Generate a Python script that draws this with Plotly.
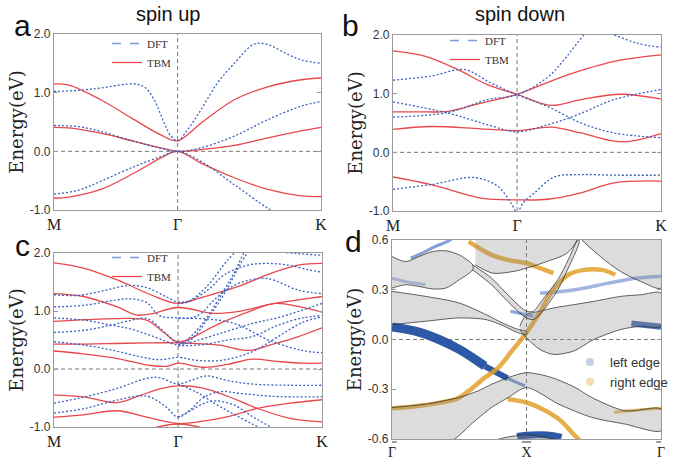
import plotly.graph_objects as go

K = 2.16

# ---------------- panel a (spin up) ----------------
a_tbm_k = [0, 0.12, 0.378, 0.649, 0.865, 1.0, 1.189, 1.459, 1.73, 2.0, 2.16]
a_tbm1_e = [1.15, 1.13, 0.88, 0.54, 0.28, 0.18, 0.48, 0.88, 1.10, 1.22, 1.25]
a_tbm2_e = [0.41, 0.40, 0.31, 0.17, 0.06, 0.0, 0.03, 0.10, 0.23, 0.35, 0.41]
a_tbm3_e = [-0.80, -0.78, -0.65, -0.37, -0.11, 0.0, -0.20, -0.45, -0.65, -0.76, -0.77]
a_dft1_k = [0, 0.2, 0.378, 0.649, 0.73, 0.81, 0.892, 0.946, 1.0, 1.081, 1.189, 1.324, 1.459, 1.622, 1.73, 1.865, 2.0, 2.16]
a_dft1_e = [1.02, 1.04, 1.08, 1.15, 1.10, 0.88, 0.48, 0.26, 0.18, 0.37, 0.71, 1.17, 1.50, 1.83, 1.82, 1.68, 1.56, 1.50]
a_dft2_k = [0, 0.2, 0.378, 0.649, 0.865, 1.0, 1.189, 1.459, 1.73, 2.0, 2.16]
a_dft2_e = [0.44, 0.42, 0.34, 0.17, 0.05, 0.0, 0.06, 0.26, 0.54, 0.77, 0.85]
a_dft3_k = [0, 0.2, 0.378, 0.649, 0.865, 1.0, 1.189, 1.459, 1.73, 1.8]
a_dft3_e = [-0.73, -0.66, -0.51, -0.26, -0.09, 0.0, -0.17, -0.57, -0.97, -1.05]

# ---------------- panel b (spin down) ----------------
b_tbm1_k = [0, 0.255, 0.523, 0.764, 1.0, 1.273, 1.515, 1.836, 2.16]
b_tbm1_e = [1.73, 1.64, 1.41, 1.15, 0.99, 0.80, 0.90, 0.99, 0.91]
b_tbm2_k = [0, 0.2, 0.442, 0.71, 1.0, 1.38, 1.783, 2.16]
b_tbm2_e = [0.69, 0.69, 0.70, 0.84, 0.99, 1.30, 1.55, 1.66]
b_tbm3_k = [0, 0.308, 0.71, 1.0, 1.273, 1.515, 1.783, 1.917, 2.16]
b_tbm3_e = [0.39, 0.44, 0.40, 0.37, 0.43, 0.33, 0.19, 0.19, 0.32]
b_tbm4_k = [0, 0.308, 0.71, 1.0, 1.247, 1.515, 1.783, 2.16]
b_tbm4_e = [-0.42, -0.55, -0.78, -0.81, -0.80, -0.69, -0.52, -0.49]
b_dft1_k = [0, 0.308, 0.576, 0.79, 1.0, 1.247, 1.515, 1.783, 2.16]
b_dft1_e = [1.23, 1.30, 1.41, 1.18, 0.98, 0.78, 0.50, 0.33, 0.25]
b_dft2_k = [0, 0.442, 0.764, 1.0, 1.247, 1.488, 1.783, 2.16]
b_dft2_e = [0.86, 0.67, 0.47, 0.35, 0.47, 0.64, 0.90, 1.07]
b_dft3_k = [0, 0.442, 0.764, 1.0, 1.247, 1.38, 1.54, 1.6]
b_dft3_e = [0.60, 0.68, 0.90, 0.98, 1.28, 1.58, 2.0, 2.1]
b_dft4_k = [1.70, 1.756, 1.97, 2.16]
b_dft4_e = [2.1, 2.03, 1.86, 1.79]
b_dft5_k = [0, 0.308, 0.657, 0.845, 0.95, 1.0, 1.05, 1.14, 1.3, 1.5, 1.8, 2.16]
b_dft5_e = [-0.63, -0.55, -0.43, -0.58, -0.86, -1.02, -0.86, -0.69, -0.42, -0.38, -0.39, -0.39]

# ---------------- panel c ----------------
c_tbm1_k = [0, 0.237, 0.51, 0.78, 1.0, 1.2, 1.48, 1.75, 1.97, 2.16]
c_tbm1_e = [1.83, 1.74, 1.535, 1.28, 1.13, 1.24, 1.42, 1.65, 1.79, 1.82]
c_tbm2_k = [0, 0.237, 0.51, 0.67, 0.78, 1.0, 1.29, 1.48, 1.75, 1.97, 2.16]
c_tbm2_e = [1.30, 1.25, 1.07, 0.93, 0.95, 1.06, 0.96, 0.99, 1.12, 1.19, 1.25]
c_tbm3_k = [0, 0.25, 0.51, 0.75, 0.89, 1.0, 1.34, 1.61, 1.78, 1.97, 2.16]
c_tbm3_e = [0.82, 0.85, 0.87, 0.84, 0.62, 0.47, 0.79, 1.02, 1.13, 1.08, 0.98]
c_tbm4_k = [0, 0.25, 0.5, 0.75, 1.0, 1.33, 1.57, 1.75, 1.97, 2.16]
c_tbm4_e = [0.43, 0.43, 0.44, 0.45, 0.45, 0.41, 0.32, 0.42, 0.56, 0.71]
c_tbm5_k = [0, 0.237, 0.51, 0.78, 0.92, 1.0, 1.2, 1.4, 1.6, 1.8, 2.0, 2.16]
c_tbm5_e = [0.31, 0.26, 0.18, 0.06, 0.05, 0.10, 0.03, 0.08, 0.17, 0.13, 0.10, 0.10]
c_tbm6_k = [0, 0.237, 0.51, 0.70, 0.86, 1.0, 1.2, 1.4, 1.64, 1.9, 2.16]
c_tbm6_e = [-0.45, -0.48, -0.58, -0.45, -0.34, -0.29, -0.33, -0.47, -0.68, -0.85, -0.91]
c_tbm7_k = [0, 0.237, 0.51, 0.73, 1.0, 1.2, 1.4, 1.64, 1.9, 2.16]
c_tbm7_e = [-0.83, -0.79, -0.72, -0.82, -0.94, -0.90, -0.82, -0.68, -0.59, -0.53]
c_tbm8_k = [0.78, 0.9, 1.0, 1.1, 1.22]
c_tbm8_e = [-1.03, -0.97, -0.95, -0.97, -1.03]

c_dft1_k = [0, 0.2, 0.4, 0.6, 0.75, 0.9, 1.0, 1.07, 1.23, 1.4, 1.5]
c_dft1_e = [1.28, 1.27, 1.35, 1.44, 1.40, 1.25, 1.15, 1.15, 1.42, 1.88, 2.1]
c_dft2_k = [1.0, 1.1, 1.25, 1.37, 1.56, 1.72, 1.89, 2.05, 2.16]
c_dft2_e = [1.15, 1.18, 1.38, 1.62, 1.79, 1.82, 1.79, 1.71, 1.67]
c_dft3_k = [0, 0.25, 0.5, 0.62, 0.75, 0.85, 1.0, 1.25, 1.46, 1.74, 2.0, 2.16]
c_dft3_e = [1.07, 1.10, 1.19, 1.21, 1.14, 0.92, 0.88, 0.86, 0.78, 0.49, 0.32, 0.28]
c_dft4_k = [0, 0.25, 0.45, 0.6, 0.75, 0.9, 1.0, 1.07, 1.2, 1.34, 1.45, 1.53, 1.56]
c_dft4_e = [0.88, 0.84, 0.76, 0.70, 0.60, 0.48, 0.42, 0.50, 0.79, 1.25, 1.65, 2.0, 2.1]
c_dft5_k = [0, 0.25, 0.45, 0.6, 0.75, 0.9, 1.0, 1.1, 1.25, 1.4, 1.5, 1.58]
c_dft5_e = [0.63, 0.67, 0.75, 0.83, 0.87, 0.62, 0.45, 0.50, 0.90, 1.40, 1.80, 2.08]
c_dft6_k = [1.0, 1.1, 1.18, 1.29, 1.4, 1.55, 1.72, 1.97, 2.16]
c_dft6_e = [0.88, 0.88, 0.95, 1.19, 1.38, 1.52, 1.56, 1.36, 1.30]
c_dft7_k = [1.75, 1.8, 1.97, 2.16]
c_dft7_e = [2.08, 2.03, 1.99, 1.96]
c_dft8_k = [0, 0.25, 0.5, 0.7, 0.85, 1.0, 1.15, 1.35, 1.6, 1.8, 2.0, 2.16]
c_dft8_e = [0.47, 0.41, 0.31, 0.21, 0.16, 0.20, 0.15, 0.15, 0.30, 0.55, 0.80, 0.90]
c_dft9_k = [1.0, 1.068, 1.34, 1.61, 1.83, 2.16]
c_dft9_e = [0.42, 0.44, 0.615, 0.79, 0.90, 1.13]
c_dft10_k = [1.0, 1.2, 1.4, 1.6, 1.8, 2.0, 2.16]
c_dft10_e = [0.40, 0.42, 0.50, 0.56, 0.75, 0.88, 0.92]
c_dft11_k = [0, 0.25, 0.5, 0.75, 0.85, 1.0, 1.1, 1.23, 1.4, 1.6, 1.9, 2.16]
c_dft11_e = [-0.59, -0.48, -0.34, -0.16, -0.15, -0.26, -0.20, -0.12, -0.20, -0.26, -0.28, -0.28]
c_dft12_k = [0, 0.25, 0.5, 0.75, 0.9, 1.0, 1.1, 1.2, 1.34, 1.5, 1.75, 2.16]
c_dft12_e = [-0.76, -0.68, -0.54, -0.47, -0.65, -0.83, -0.70, -0.50, -0.39, -0.42, -0.47, -0.48]
c_dft13_k = [1.0, 1.1, 1.2, 1.3, 1.45, 1.6, 1.78]
c_dft13_e = [-0.83, -0.72, -0.60, -0.55, -0.62, -0.82, -1.04]
c_dft14_k = [1.0, 1.15, 1.3, 1.45, 1.6, 1.7]
c_dft14_e = [-0.26, -0.40, -0.60, -0.78, -0.95, -1.05]

# ---------------- panel d (ribbon) ----------------
# bulk ribbons: upper / lower boundaries
d_r1_k = [0, 0.1, 0.2, 0.3, 0.4, 0.5, 0.6]
d_r1_top = [0.50, 0.47, 0.50, 0.53, 0.535, 0.51, 0.45]
d_r1_bot = [0.31, 0.33, 0.32, 0.305, 0.31, 0.36, 0.42]
d_r2_k = [0.6, 0.74, 0.86, 0.95, 1.0, 1.05, 1.12, 1.24, 1.31, 1.39]
d_r2_top = [0.45, 0.37, 0.27, 0.20, 0.17, 0.17, 0.24, 0.37, 0.48, 0.62]
d_r2_bot = [0.42, 0.33, 0.23, 0.16, 0.13, 0.12, 0.17, 0.31, 0.43, 0.58]
d_r3_k = [0, 0.25, 0.5, 0.7, 0.82, 0.94, 1.0]
d_r3_top = [0.29, 0.26, 0.22, 0.15, 0.10, 0.06, 0.05]
d_r3_bot = [0.09, 0.11, 0.13, 0.12, 0.085, 0.04, 0.03]
d_r4_k = [0.95, 1.0, 1.1, 1.2, 1.35, 1.5, 1.7, 1.85, 2.0]
d_r4_top = [0.08, 0.15, 0.17, 0.19, 0.21, 0.23, 0.26, 0.27, 0.28]
d_r4_bot = [0.06, 0.01, -0.06, -0.09, -0.07, 0.0, 0.06, 0.08, 0.08]
d_r5_k = [0.62, 0.75, 0.9, 1.0, 1.15, 1.3, 1.4]
d_r5_top = [0.62, 0.62, 0.62, 0.62, 0.62, 0.62, 0.62]
d_r5_bot = [0.45, 0.40, 0.41, 0.43, 0.47, 0.52, 0.62]
d_r6_k = [1.4, 1.55, 1.7, 1.85, 2.0]
d_r6_top = [0.62, 0.62, 0.62, 0.62, 0.62]
d_r6_bot = [0.62, 0.50, 0.41, 0.35, 0.31]
d_r7_k = [0, 0.247, 0.494, 0.64, 0.74, 0.864, 1.0, 1.19, 1.363, 1.486, 1.733, 2.0]
d_r7_top = [-0.41, -0.39, -0.35, -0.31, -0.27, -0.23, -0.20, -0.23, -0.29, -0.35, -0.43, -0.42]
d_r7_bk = [0, 0.42, 0.617, 0.74, 0.864, 1.0, 1.24, 1.486, 1.733, 2.0]
d_r7_bot = [-0.62, -0.62, -0.49, -0.41, -0.35, -0.29, -0.39, -0.47, -0.51, -0.55]
d_r8_k = [0.72, 0.85, 1.0, 1.15, 1.28]
d_r8_top = [-0.62, -0.59, -0.575, -0.59, -0.62]
d_r8_bot = [-0.62, -0.62, -0.62, -0.62, -0.62]

# edge states (left edge = blue, right edge = orange)
d_left1_k = [0, 0.2, 0.35, 0.5, 0.69]
d_left1_e = [0.075, 0.045, 0.0, -0.06, -0.16]
d_left1b_k = [0.69, 0.78, 0.86]
d_left1b_e = [-0.16, -0.20, -0.235]
d_left1c_k = [0.86, 0.93, 0.99]
d_left1c_e = [-0.235, -0.26, -0.28]
d_left2_k = [0.14, 0.22, 0.32, 0.41, 0.45]
d_left2_e = [0.49, 0.52, 0.56, 0.59, 0.61]
d_left3_k = [0.0, 0.1, 0.25]
d_left3_e = [0.37, 0.35, 0.33]
d_left4_k = [0.88, 0.94, 1.0, 1.05]
d_left4_e = [0.17, 0.16, 0.15, 0.14]
d_left5_k = [1.1, 1.2, 1.36, 1.61, 1.81, 2.0]
d_left5_e = [0.28, 0.285, 0.30, 0.34, 0.37, 0.38]
d_left6_k = [1.78, 1.88, 2.0]
d_left6_e = [0.097, 0.088, 0.077]
d_left7_k = [0.93, 1.0, 1.1, 1.2, 1.26]
d_left7_e = [-0.585, -0.577, -0.574, -0.58, -0.59]
d_right1_k = [0, 0.25, 0.49, 0.57, 0.69, 0.79, 0.89, 0.99, 1.09, 1.19, 1.31, 1.43, 1.56, 1.66]
d_right1_e = [-0.415, -0.395, -0.355, -0.31, -0.23, -0.17, -0.07, 0.03, 0.15, 0.29, 0.39, 0.42, 0.42, 0.39]
d_right2_k = [0.57, 0.74, 0.86, 1.0, 1.1, 1.2]
d_right2_e = [0.59, 0.51, 0.48, 0.46, 0.43, 0.40]
d_right3_k = [0.86, 1.0, 1.12, 1.24, 1.36, 1.42]
d_right3_e = [-0.36, -0.38, -0.42, -0.48, -0.58, -0.63]
d_right4_k = [1.65, 1.75, 1.9, 2.0]
d_right4_e = [-0.44, -0.43, -0.42, -0.415]

RED = '#e8474c'
BLUE = '#3b62bf'
EBLUE = '#2d58a6'
EORNG = '#e0a22a'

fig = go.Figure()


def add(k, e, ax, color, width=1.3, dash=None, opacity=1.0):
    line = dict(color=color, width=width, shape='spline', smoothing=1.0)
    if dash:
        line['dash'] = dash
    fig.add_trace(go.Scatter(x=k, y=e, mode='lines', line=line, opacity=opacity,
                             showlegend=False, hoverinfo='skip', xaxis='x' + ax, yaxis='y' + ax))


def ribbon(k, top, bot, kb=None):
    kb = k if kb is None else kb
    xs = list(k) + list(kb)[::-1]
    ys = list(top) + list(bot)[::-1]
    fig.add_trace(go.Scatter(x=xs, y=ys, mode='lines', fill='toself',
                             fillcolor='rgba(140,140,140,0.30)',
                             line=dict(color='rgba(45,45,45,0.75)', width=1.0, shape='spline', smoothing=0.8),
                             showlegend=False, hoverinfo='skip', xaxis='x4', yaxis='y4'))

DOT = '2px,2px'
# panel a
for e in (a_tbm1_e, a_tbm2_e, a_tbm3_e):
    add(a_tbm_k, e, '', RED)
add(a_dft1_k, a_dft1_e, '', BLUE, dash=DOT)
add(a_dft2_k, a_dft2_e, '', BLUE, dash=DOT)
add(a_dft3_k, a_dft3_e, '', BLUE, dash=DOT)
# panel b
for k, e in ((b_tbm1_k, b_tbm1_e), (b_tbm2_k, b_tbm2_e), (b_tbm3_k, b_tbm3_e), (b_tbm4_k, b_tbm4_e)):
    add(k, e, '2', RED)
for k, e in ((b_dft1_k, b_dft1_e), (b_dft2_k, b_dft2_e), (b_dft3_k, b_dft3_e), (b_dft4_k, b_dft4_e), (b_dft5_k, b_dft5_e)):
    add(k, e, '2', BLUE, dash=DOT)
# panel c
for k, e in ((c_tbm1_k, c_tbm1_e), (c_tbm2_k, c_tbm2_e), (c_tbm3_k, c_tbm3_e), (c_tbm4_k, c_tbm4_e),
             (c_tbm5_k, c_tbm5_e), (c_tbm6_k, c_tbm6_e), (c_tbm7_k, c_tbm7_e), (c_tbm8_k, c_tbm8_e)):
    add(k, e, '3', RED)
for k, e in ((c_dft1_k, c_dft1_e), (c_dft2_k, c_dft2_e), (c_dft3_k, c_dft3_e), (c_dft4_k, c_dft4_e),
             (c_dft5_k, c_dft5_e), (c_dft6_k, c_dft6_e), (c_dft7_k, c_dft7_e), (c_dft8_k, c_dft8_e),
             (c_dft9_k, c_dft9_e), (c_dft10_k, c_dft10_e), (c_dft11_k, c_dft11_e), (c_dft12_k, c_dft12_e),
             (c_dft13_k, c_dft13_e), (c_dft14_k, c_dft14_e)):
    add(k, e, '3', BLUE, dash=DOT)

# panel d edge states (drawn below the bulk ribbons)
add(d_left1_k, d_left1_e, '4', EBLUE, width=9)
add(d_left1b_k, d_left1b_e, '4', EBLUE, width=6)
add(d_left1c_k, d_left1c_e, '4', '#5a7cc0', width=3, opacity=0.8)
add(d_left2_k, d_left2_e, '4', '#6f8fd0', width=3, opacity=0.85)
add(d_left3_k, d_left3_e, '4', '#9fb4df', width=3, opacity=0.8)
add(d_left4_k, d_left4_e, '4', '#6f8fd0', width=3, opacity=0.8)
add(d_left5_k, d_left5_e, '4', '#8aa3d8', width=3.5, opacity=0.8)
add(d_left6_k, d_left6_e, '4', EBLUE, width=6, opacity=0.85)
add(d_left7_k, d_left7_e, '4', EBLUE, width=7)
add(d_right1_k, d_right1_e, '4', EORNG, width=4.5, opacity=0.85)
add(d_right2_k, d_right2_e, '4', EORNG, width=4.5, opacity=0.85)
add(d_right3_k, d_right3_e, '4', EORNG, width=4.5, opacity=0.85)
add(d_right4_k, d_right4_e, '4', EORNG, width=3, opacity=0.7)
# bulk ribbons
ribbon(d_r1_k, d_r1_top, d_r1_bot)
ribbon(d_r3_k, d_r3_top, d_r3_bot)
ribbon(d_r4_k, d_r4_top, d_r4_bot)
ribbon(d_r5_k, d_r5_top, d_r5_bot)
ribbon(d_r6_k, d_r6_top, d_r6_bot)
ribbon(d_r7_k, d_r7_top, d_r7_bot, d_r7_bk)
ribbon(d_r8_k, d_r8_top, d_r8_bot)
ribbon(d_r2_k, d_r2_top, d_r2_bot)

# legends
for lg in ('legend', 'legend2', 'legend3'):
    fig.add_trace(go.Scatter(x=[None], y=[None], mode='lines', name='DFT',
                             line=dict(color='#7d9bd6', width=1.3, dash='dash'), legend=lg))
    fig.add_trace(go.Scatter(x=[None], y=[None], mode='lines', name='TBM',
                             line=dict(color=RED, width=1.3), legend=lg))
fig.add_trace(go.Scatter(x=[None], y=[None], mode='markers', name='left edge',
                         marker=dict(color='#c3d0ea', size=8), legend='legend4'))
fig.add_trace(go.Scatter(x=[None], y=[None], mode='markers', name='right edge',
                         marker=dict(color='#f3ddb0', size=8), legend='legend4'))

W, H = 696, 462


def px(x):
    return x / W


def py(y):
    return 1 - y / H


doms = {
    '': ([54, 321], [34, 210]),
    '2': ([393, 661], [35, 211]),
    '3': ([54, 322], [253, 427]),
    '4': ([392, 661], [240, 439]),
}

SERIF = 'Liberation Serif'
SANS = 'Liberation Sans'
layout = dict(width=W, height=H, margin=dict(l=0, r=0, t=0, b=0, autoexpand=False),
              paper_bgcolor='white', plot_bgcolor='white', showlegend=True)
shapes = []
for ax, (xd, yd) in doms.items():
    xa = 'x' + ax
    ya = 'y' + ax
    if ax == '4':
        xr = [0, 2]
        tv = [0, 1, 2]
        tt = ['Γ', 'X', 'Γ']
        yr = [-0.6, 0.6]
        ytv = [-0.6, -0.3, 0.0, 0.3, 0.6]
        ytt = ['-0.6', '-0.3', '0.0', '0.3', '0.6']
        xstand = 0
        xsize = 14
    else:
        xr = [0, K]
        tv = [0, 1, K]
        tt = ['M', 'Γ', 'K']
        yr = [-1, 2]
        ytv = [-1, 0, 1, 2]
        ytt = ['-1.0', '0.0', '1.0', '2.0']
        xstand = 0
        xsize = 16
    layout['xaxis' + ax] = dict(domain=[px(xd[0]), px(xd[1])], range=xr, anchor=ya, automargin=False,
                                tickvals=tv, ticktext=tt, ticks='', showgrid=False, zeroline=False,
                                showline=True, mirror=True, linecolor='#9a9a9a', linewidth=1.2,
                                ticklabelstandoff=xstand,
                                tickfont=dict(family=SERIF, size=xsize, color='#222'))
    layout['yaxis' + ax] = dict(domain=[py(yd[1]), py(yd[0])], range=yr, anchor=xa, automargin=False,
                                tickvals=ytv, ticktext=ytt, ticks='inside', ticklen=4, tickcolor='#9a9a9a',
                                showgrid=False, zeroline=False,
                                showline=True, mirror='ticks', linecolor='#9a9a9a', linewidth=1.2,
                                tickfont=dict(family=SANS, size=12, color='#333'),
                                title=dict(text='Energy(eV)', font=dict(family='DejaVu Serif', size=18, color='#222'),
                                           standoff=1))
    shapes.append(dict(type='line', x0=xr[0], x1=xr[1], y0=0, y1=0, xref=xa, yref=ya,
                       line=dict(color='#777', width=1, dash='4px,3px'), layer='below'))
    shapes.append(dict(type='line', x0=1, x1=1, y0=yr[0], y1=yr[1], xref=xa, yref=ya,
                       line=dict(color='#777', width=1, dash='4px,3px'), layer='below'))
    if ax == '4':
        for t in tv:
            shapes.append(dict(type='line', x0=t - 0.035, x1=t + 0.035, y0=py(442), y1=py(442),
                               xref='x4', yref='paper', line=dict(color='#333', width=1)))
layout['shapes'] = shapes

leg_font = dict(family=SERIF, size=11, color='#333')
layout['legend'] = dict(x=px(107), y=py(29), xanchor='left', yanchor='top', font=leg_font,
                        bgcolor='rgba(0,0,0,0)', itemwidth=30)
layout['legend2'] = dict(x=px(445), y=py(26), xanchor='left', yanchor='top', font=leg_font,
                         bgcolor='rgba(0,0,0,0)', itemwidth=30)
layout['legend3'] = dict(x=px(107), y=py(243), xanchor='left', yanchor='top', font=leg_font,
                         bgcolor='rgba(0,0,0,0)', itemwidth=30)
layout['legend4'] = dict(x=px(570), y=py(347), xanchor='left', yanchor='top',
                         font=dict(family=SANS, size=13, color='#333'),
                         bgcolor='rgba(0,0,0,0)', itemwidth=30)

ann = []
for txt, x, y, size in (('spin up', 168, 14, 20), ('spin down', 520, 14, 20),
                        ('a', 22, 25, 30), ('b', 350, 25, 30), ('c', 22, 245, 30), ('d', 353, 241, 30)):
    ann.append(dict(text=txt, x=px(x), y=py(y), xref='paper', yref='paper', showarrow=False,
                    xanchor='center', yanchor='middle', font=dict(family=SANS, size=size, color='#111')))
layout['annotations'] = ann
fig.update_layout(**layout)
fig.write_html('out.html', config={'displayModeBar': False},
               post_script="document.body.style.margin='0';document.body.style.overflow='hidden';")
